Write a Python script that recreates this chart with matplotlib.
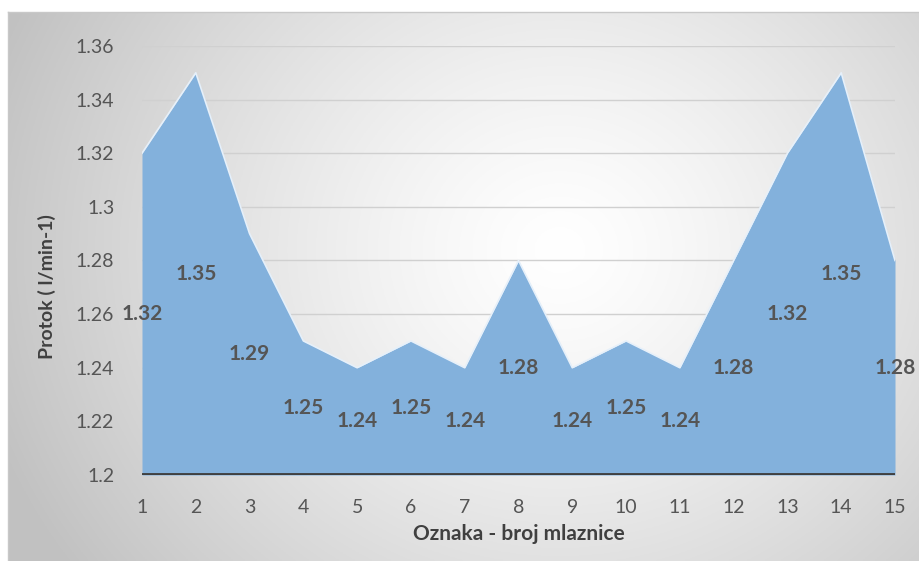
import numpy as np
import matplotlib
matplotlib.use("Agg")
import matplotlib.pyplot as plt

plt.rcParams['font.family'] = ['Lato', 'DejaVu Sans']

nozzles = list(range(1, 16))
flow = [1.32, 1.35, 1.29, 1.25, 1.24, 1.25, 1.24, 1.28, 1.24, 1.25, 1.24, 1.28, 1.32, 1.35, 1.28]
yticks = [1.2, 1.22, 1.24, 1.26, 1.28, 1.3, 1.32, 1.34, 1.36]
xlabel = "Oznaka - broj mlaznice"
ylabel = "Protok ( l/min-1)"

W, H = 920, 561
fig = plt.figure(figsize=(W / 100, H / 100), dpi=100)
fig.patch.set_facecolor('white')

# background frame with radial gradient
bg = fig.add_axes([8 / W, 0, 1 - 8 / W, 1 - 12 / H])
gx = np.linspace(8, W, 400)
gy = np.linspace(12, H, 250)
X, Y = np.meshgrid(gx, gy)
d = np.sqrt((X - 560) ** 2 + ((Y - 250) * 1.1) ** 2)
v = 1.0 - 0.24 * np.clip(d / 600, 0, 1) ** 1.3
img = np.dstack([v, v, v])
bg.imshow(img, aspect='auto', extent=[0, 1, 0, 1], origin='upper')
bg.set_xlim(0, 1)
bg.set_ylim(0, 1)
bg.set_xticks([])
bg.set_yticks([])
for s in bg.spines.values():
    s.set_color('#c8c8c8')
    s.set_linewidth(1)
bg.spines['right'].set_visible(False)
bg.spines['bottom'].set_visible(False)

ax = fig.add_axes([142 / W, 1 - 475 / H, (895 - 142) / W, (475 - 46) / H])
ax.patch.set_alpha(0)
ax.set_xlim(1, 15)
ax.set_ylim(1.2, 1.36)
ax.set_yticks(yticks)
ax.set_yticklabels([f"{t:g}" for t in yticks])
ax.set_xticks(nozzles)
ax.grid(axis='y', color='#d0d0d0', linewidth=1)
ax.set_axisbelow(True)

ax.fill_between(nozzles, 1.2, flow, color='#83B1DC', zorder=2, linewidth=0)
ax.plot(nozzles, flow, color='#e6f0fa', linewidth=1.2, zorder=3)
ax.axhline(1.2, color='#404040', linewidth=3.5, zorder=4)

for x, y in zip(nozzles, flow):
    ax.text(x, (y + 1.2) / 2, f"{y:g}", ha='center', va='center',
            fontsize=15, fontweight='bold', color='#555555', zorder=5)

for s in ax.spines.values():
    s.set_visible(False)
ax.tick_params(axis='both', length=0, labelsize=14, colors='#555555')
ax.tick_params(axis='y', pad=20)
ax.tick_params(axis='x', pad=17)

ax.set_xlabel(xlabel, fontsize=15, fontweight='bold', color='#404040', labelpad=6)
ax.set_ylabel(ylabel, fontsize=14, fontweight='bold', color='#404040')
ax.yaxis.set_label_coords(-(142 - 56) / (895 - 142), 0.44)

fig.savefig('out.png', dpi=100)
